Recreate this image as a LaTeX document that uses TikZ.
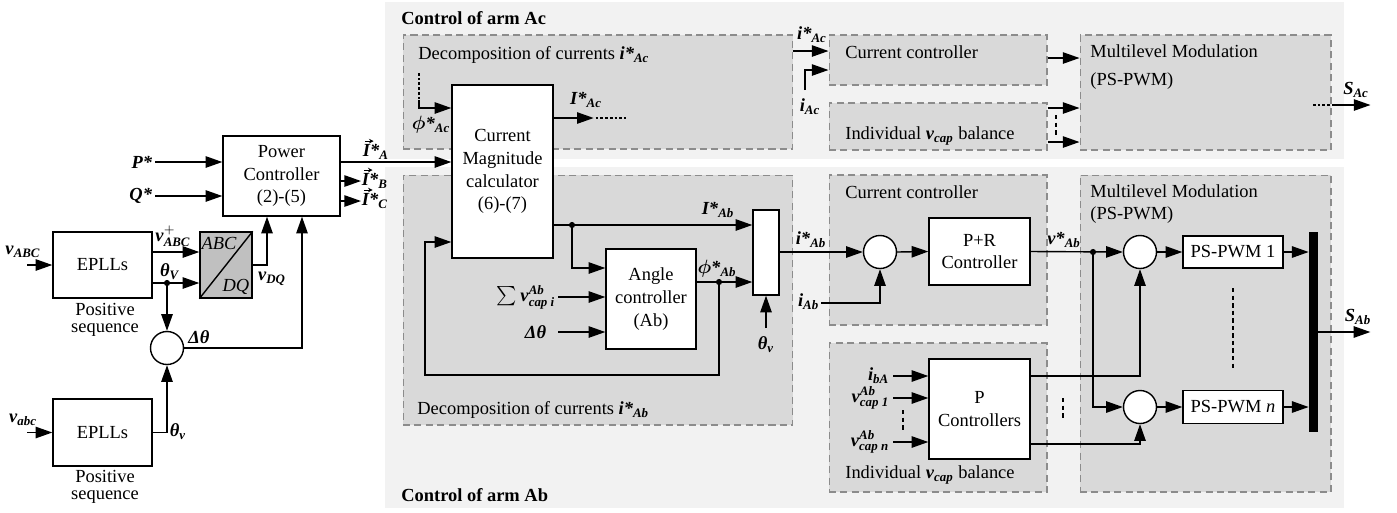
\documentclass[tikz,border=0pt]{standalone}
\usepackage{amsmath}
\usepackage{fontspec}
\setmainfont{Liberation Serif}
\usetikzlibrary{arrows.meta,positioning}

\definecolor{regbg}{HTML}{F2F2F2}
\definecolor{grpbg}{HTML}{D9D9D9}
\definecolor{dashgray}{HTML}{8C8C8C}
\definecolor{convbg}{HTML}{C0C0C0}
\newcommand{\dfont}{\fontsize{10.5}{13}\selectfont}
\newcommand{\bi}[1]{\textbf{\textit{#1}}}
\newcommand{\bphi}{\boldsymbol{\phi}}

\begin{document}
\begin{tikzpicture}[
  x=0.02cm, y=-0.02cm,
  font=\dfont,
  region/.style={fill=regbg, inner sep=0pt, minimum width=19.18cm},
  title/.style={anchor=west, inner sep=0pt, font=\dfont\bfseries},
  group/.style={draw=dashgray, fill=grpbg, line width=0.6pt, dash pattern=on 4pt off 2.5pt, inner sep=0pt},
  gtext/.style={anchor=west, inner sep=0pt},
  blk/.style={draw, fill=white, line width=0.8pt, align=center, inner sep=0pt},
  sumc/.style={circle, draw, fill=white, line width=0.8pt, minimum size=0.66cm, inner sep=0pt},
  dot/.style={circle, fill=black, minimum size=3.5pt, inner sep=0pt},
  lbl/.style={inner sep=0.3pt},
  arrow/.style={-{Triangle[length=9.5pt,width=6.5pt]}, line width=0.8pt},
  vecmark/.style={-{Stealth[length=2.6pt,width=2.6pt]}, line width=0.5pt},
  wire/.style={line width=0.8pt},
  cont/.style={line width=0.8pt, dash pattern=on 1.5pt off 1.2pt},
  etc/.style={line width=1.4pt, dash pattern=on 2.5pt off 1.8pt}
]
\useasboundingbox (0,0) rectangle (1397,512);

% arm regions
\node[region, minimum height=3.14cm] (regAc) at (864.5,80.5) {};
\node[region, minimum height=6.82cm] (regAb) at (864.5,337.5) {};
\node[title] at (401,18) {Control of arm Ac};
\node[title] at (401,495) {Control of arm Ab};

% dashed groups
\node[group, minimum width=7.8cm, minimum height=2.28cm] (gDecAc) at (598,92) {};
\node[group, minimum width=4.36cm, minimum height=1.0cm] (gCurAc) at (938,60) {};
\node[group, minimum width=4.36cm, minimum height=0.94cm] (gBalAc) at (938,126.5) {};
\node[group, minimum width=5.02cm, minimum height=2.3cm] (gModAc) at (1205.5,92.5) {};
\node[group, minimum width=7.8cm, minimum height=5.0cm] (gDecAb) at (598,300) {};
\node[group, minimum width=4.36cm, minimum height=3.0cm] (gCurAb) at (938,250) {};
\node[group, minimum width=4.36cm, minimum height=2.98cm] (gBalAb) at (938,417.5) {};
\node[group, minimum width=5.02cm, minimum height=6.34cm] (gModAb) at (1205.5,333.5) {};

\node[gtext] at (418,55) {Decomposition of currents $\bi{i*}_{\bi{Ac}}$};
\node[gtext] at (845,52) {Current controller};
\node[gtext] at (845,136) {Individual $\bi{v}_{\bi{cap}}$ balance};
\node[gtext, align=left] at (1090,67) {Multilevel Modulation\\[3pt](PS-PWM)};
\node[gtext] at (417,410) {Decomposition of currents $\bi{i*}_{\bi{Ab}}$};
\node[gtext] at (845,192) {Current controller};
\node[gtext] at (845,475) {Individual $\bi{v}_{\bi{cap}}$ balance};
\node[gtext, align=left] at (1090,204) {Multilevel Modulation\\(PS-PWM)};

% grid side
\node[blk, minimum width=2.34cm, minimum height=1.6cm] (pc) at (281.5,176) {Power\\Controller\\(2)-(5)};
\node[blk, minimum width=1.98cm, minimum height=1.32cm] (epllA) at (102.5,265) {EPLLs};
\node[blk, minimum width=1.98cm, minimum height=1.34cm] (epllB) at (102.5,432.5) {EPLLs};
\node[align=center, inner sep=0pt] (seqA) at (105,320) {Positive\\[-3pt]sequence};
\node[align=center, inner sep=0pt] (seqB) at (105,487) {Positive\\[-3pt]sequence};
\node[blk, fill=convbg, minimum width=1.04cm, minimum height=1.32cm] (abcdq) at (226,265) {};
\draw[wire] (abcdq.south west) -- (abcdq.north east);
\node[font=\dfont\itshape, inner sep=0pt] at (219,243) {ABC};
\node[font=\dfont\itshape, inner sep=0pt] at (236,287) {DQ};
\node[sumc] (sumA) at (167,348) {};
\node[dot] (jV) at (167,283) {};

\coordinate (inA) at (27,265);
\coordinate (inB) at (27,432.5);
\coordinate (inP) at (155,162);
\coordinate (inQ) at (155,196);
\node[lbl] at (23,252) {$\bi{v}_{\bi{ABC}}$};
\node[lbl] at (23,420) {$\bi{v}_{\bi{abc}}$};
\node[lbl, anchor=east] at (153,162) {\bi{P*}};
\node[lbl, anchor=east] at (153,196) {\bi{Q*}};
\draw[arrow] (inA) -- (epllA.west);
\draw[arrow] (inB) -- (epllB.west);
\draw[arrow] (inP) -- (inP -| pc.west);
\draw[arrow] (inQ) -- (inQ -| pc.west);

\draw[arrow] ([yshift=0.26cm]epllA.east) -- ([yshift=0.26cm]abcdq.west);
\node[lbl] at (173,236) {$\bi{v}^{+}_{\bi{ABC}}$};
\draw[arrow] (epllA.east |- jV) -- (abcdq.west |- jV);
\draw[arrow] (jV) -- (sumA.north);
\node[lbl] at (170,272) {$\bi{θ}_{\bi{V}}$};
\draw[arrow] (abcdq.east) -| ([xshift=-0.29cm]pc.south);
\node[lbl] at (272,279) {$\bi{v}_{\bi{DQ}}$};
\draw[arrow] (sumA.east) -| ([xshift=0.41cm]pc.south);
\node[lbl] at (199,337) {\bi{Δθ}};
\draw[arrow] (epllB.east) -| (sumA.south);
\node[lbl, anchor=west] at (169,432) {$\bi{θ}_{\bi{v}}$};

% phase current references
\node[lbl, anchor=west] (lIA) at (362,152) {$\bi{I*}_{\bi{A}}$};
\node[lbl, anchor=west] (lIB) at (361,181) {$\bi{I*}_{\bi{B}}$};
\node[lbl, anchor=west] (lIC) at (361,201) {$\bi{I*}_{\bi{C}}$};
\draw[vecmark] ([xshift=1.6pt,yshift=1.4pt]lIA.north west) -- ++(5pt,0);
\draw[vecmark] ([xshift=1.6pt,yshift=1.4pt]lIB.north west) -- ++(5pt,0);
\draw[vecmark] ([xshift=1.6pt,yshift=1.4pt]lIC.north west) -- ++(5pt,0);
\draw[arrow] (pc.east |- lIB) -- (lIB.west);
\draw[arrow] (pc.east |- lIC) -- (lIC.west);

% current magnitude calculator
\node[blk, minimum width=2.02cm, minimum height=3.46cm] (cm) at (502.5,171.5) {Current\\Magnitude\\calculator\\(6)-(7)};
\draw[arrow] (pc.east |- inP) -- (cm.west |- inP);

% arm Ac
\coordinate (phiAc) at (419,73);
\draw[cont] (phiAc) -- ++(0,27) coordinate (phiAcB);
\draw[arrow] (phiAcB) |- (cm.west |- 0,108);
\node[lbl] at (431,125) {$\bphi\bi{*}_{\bi{Ac}}$};
\draw[arrow] (cm.east |- 0,118) -- ++(40,0) coordinate (iAcEnd);
\draw[cont] (iAcEnd) ++(2,0) -- ++(30,0);
\node[lbl] at (586,100) {$\bi{I*}_{\bi{Ac}}$};

\draw[arrow] (gDecAc.east |- 0,51) -- (gCurAc.west |- 0,51);
\node[lbl] at (812,35) {$\bi{i*}_{\bi{Ac}}$};
\coordinate (iAcIn) at (805,90);
\draw[arrow] (iAcIn) |- (gCurAc.west |- 0,70);
\node[lbl] at (810,107) {$\bi{i}_{\bi{Ac}}$};
\draw[arrow] (gCurAc.east |- 0,58) -- (gModAc.west |- 0,58);
\draw[arrow] (gBalAc.east |- 0,108) -- (gModAc.west |- 0,108);
\draw[arrow] (gBalAc.east |- 0,142) -- (gModAc.west |- 0,142);
\draw[etc] (1056,115) -- (1056,135);
\coordinate (sAcIn) at (1313,105);
\draw[cont] (sAcIn) -- (gModAc.east |- sAcIn);
\draw[arrow] (gModAc.east |- sAcIn) -- ++(39,0);
\node[lbl] at (1356,90) {$\bi{S}_{\bi{Ac}}$};

% arm Ab: decomposition
\node[blk, minimum width=0.52cm, minimum height=1.7cm] (mux) at (766,252.5) {};
\node[blk, minimum width=1.8cm, minimum height=2.0cm] (ang) at (651,299) {Angle\\controller\\(Ab)};
\node[dot] (jI) at (572,225) {};
\node[dot] (jPhi) at (719,282) {};
\draw[arrow] (cm.east |- jI) -- (mux.west |- jI);
\draw[arrow] (jI) |- (ang.west |- 0,268);
\node[lbl] at (718,210) {$\bi{I*}_{\bi{Ab}}$};
\coordinate (sumIn) at (558,297);
\coordinate (dthIn) at (558,332);
\node[lbl, anchor=east] at (556,297) {$\sum\bi{v}^{\bi{Ab}}_{\bi{cap i}}$};
\node[lbl, anchor=east] at (547,332) {\bi{Δθ}};
\draw[arrow] (sumIn) -- (sumIn -| ang.west);
\draw[arrow] (dthIn) -- (dthIn -| ang.west);
\draw[arrow] (ang.east |- jPhi) -- (mux.west |- jPhi);
\node[lbl] at (717,269) {$\bphi\bi{*}_{\bi{Ab}}$};
\coordinate (fbk) at (425,375);
\draw[arrow] (jPhi) |- (fbk) |- (cm.west |- 0,242);
\coordinate (thIn) at (766,328);
\draw[arrow] (thIn) -- (mux.south);
\node[lbl] at (766,345) {$\bi{θ}_{\bi{v}}$};

% arm Ab: current controller
\node[sumc] (sumB) at (880,252) {};
\node[blk, minimum width=2.02cm, minimum height=1.34cm] (pr) at (979.5,251.5) {P+R\\Controller};
\draw[arrow] (mux.east |- sumB) -- (sumB.west);
\node[lbl] at (811,240) {$\bi{i*}_{\bi{Ab}}$};
\coordinate (iAbIn) at (821,303);
\draw[arrow] (iAbIn) -| (sumB.south);
\node[lbl, anchor=east] at (820,302) {$\bi{i}_{\bi{Ab}}$};
\draw[arrow] (sumB.east) -- (pr.west);

% arm Ab: modulation
\node[sumc] (sum1) at (1140,252) {};
\node[sumc] (sumN) at (1140,407) {};
\node[dot] (jv) at (1093,252) {};
\node[blk, minimum width=2.0cm, minimum height=0.64cm] (pw1) at (1233,252) {PS-PWM 1};
\node[blk, minimum width=2.0cm, minimum height=0.66cm] (pwN) at (1233,407) {PS-PWM \textit{n}};
\node[fill=black, minimum width=0.18cm, minimum height=4.0cm, inner sep=0pt] (bar) at (1313.5,332) {};
\draw[arrow] (pr.east) -- (sum1.west);
\node[lbl] at (1064,240) {$\bi{v*}_{\bi{Ab}}$};
\draw[arrow] (jv) |- (sumN.west);
\draw[arrow] (sum1.east) -- (pw1.west);
\draw[arrow] (sumN.east) -- (pwN.west);
\draw[arrow] (pw1.east) -- (pw1.east -| bar.west);
\draw[arrow] (pwN.east) -- (pwN.east -| bar.west);
\draw[etc] (1233,288) -- (1233,368);
\draw[arrow] (bar.east) -- ++(52,0);
\node[lbl] at (1358,317) {$\bi{S}_{\bi{Ab}}$};

% arm Ab: capacitor balance
\node[blk, minimum width=2.02cm, minimum height=2.0cm] (pctl) at (979.5,409) {P\\Controllers};
\coordinate (ibaIn) at (893,376);
\coordinate (vc1In) at (893,398);
\coordinate (vcnIn) at (893,442);
\node[lbl, anchor=east] at (890,376) {$\bi{i}_{\bi{bA}}$};
\node[lbl, anchor=east] at (890,398) {$\bi{v}^{\bi{Ab}}_{\bi{cap 1}}$};
\node[lbl, anchor=east] at (890,442) {$\bi{v}^{\bi{Ab}}_{\bi{cap n}}$};
\draw[arrow] (ibaIn) -- (ibaIn -| pctl.west);
\draw[arrow] (vc1In) -- (vc1In -| pctl.west);
\draw[arrow] (vcnIn) -- (vcnIn -| pctl.west);
\draw[etc] (903,410) -- (903,432);
\draw[arrow] (pctl.east |- ibaIn) -| (sum1.south);
\draw[arrow] (pctl.east |- 0,444) -| (sumN.south);
\draw[etc] (1063,398) -- (1063,418);

\end{tikzpicture}
\end{document}
